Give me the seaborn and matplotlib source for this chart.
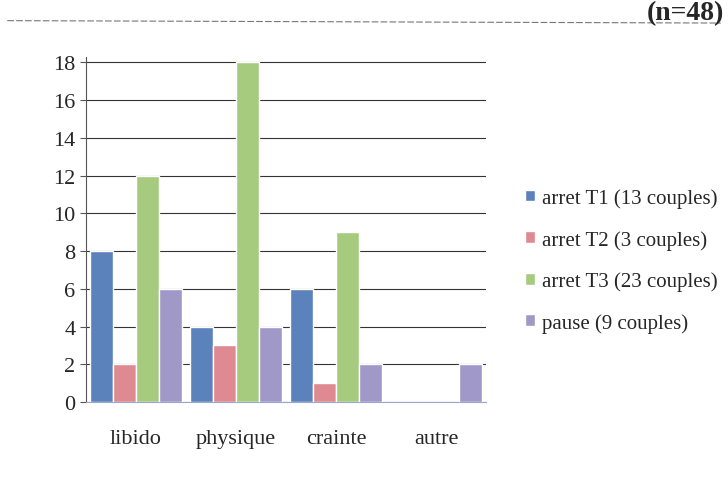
import pandas as pd
import matplotlib.pyplot as plt
import seaborn as sns

""" data read off the chart """
categories = ['libido', 'physique', 'crainte', 'autre']
groups = ['arret T1 (13 couples)', 'arret T2 (3 couples)',
          'arret T3 (23 couples)', 'pause (9 couples)']
t1 = [8, 4, 6, 0]
t2 = [2, 3, 1, 0]
t3 = [12, 18, 9, 0]
pause = [6, 4, 2, 2]
colors = ['#4b7fcb', '#ec7c84', '#a6d872', '#9b91cf']

rows = []
for g, vals in zip(groups, [t1, t2, t3, pause]):
    for c, v in zip(categories, vals):
        rows.append({'motif': c, 'groupe': g, 'n': v})
data = pd.DataFrame(rows)

sns.set_style('white')
plt.rcParams['font.family'] = ['Liberation Serif', 'DejaVu Serif']

fig = plt.figure(figsize=(7.28, 4.81), dpi=100)
ax = fig.add_axes([0.118, 0.162, 0.55, 0.718])

sns.barplot(data=data, x='motif', y='n', hue='groupe', palette=colors,
            width=0.92, ax=ax, zorder=3)

# horizontal grid lines like the excel chart
ax.set_ylim(0, 18.3)
ax.set_yticks(range(0, 19, 2))
ax.yaxis.grid(True, color='#333333', linewidth=0.8, zorder=0)
ax.set_axisbelow(True)
for s in ['top', 'right']:
    ax.spines[s].set_visible(False)
ax.spines['left'].set_color('#555555')
ax.spines['bottom'].set_color('#9aa6d6')
ax.tick_params(axis='y', labelsize=16, length=4, left=True, color='#555555')
ax.tick_params(axis='x', labelsize=16, pad=16)
ax.set_xlabel('')
ax.set_ylabel('')

ax.legend(loc='center left', bbox_to_anchor=(1.05, 0.41), frameon=False,
          fontsize=15, handlelength=0.5, handleheight=0.5,
          handletextpad=0.3, labelspacing=1.05)

# title of the scan, mostly cut off in the reference
fig.text(0.995, 0.998, '(n=48)', ha='right', va='top',
         fontsize=20, fontweight='bold')
fig.add_artist(plt.Line2D([0.01, 0.99], [0.955, 0.95], color='#777777',
                          linewidth=0.8, linestyle=(0, (6, 2))))

fig.savefig('out.png', dpi=100)
